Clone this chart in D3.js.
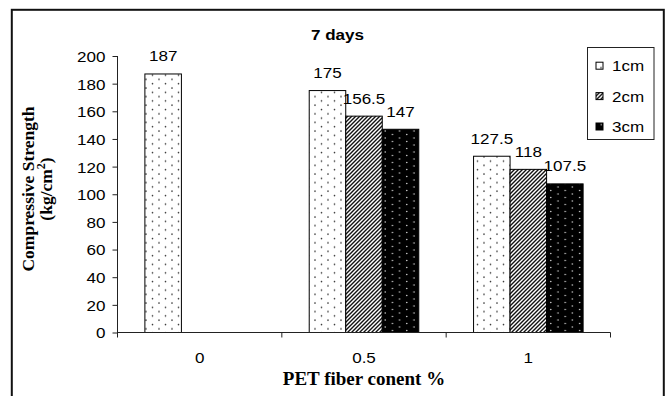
<!DOCTYPE html>
<html>
<head>
<meta charset="utf-8">
<script src="https://cdn.jsdelivr.net/npm/d3@7"></script>
<style>
  html, body { margin: 0; padding: 0; background: #fff; }
  svg { display: block; }
  .sans { font-family: "Liberation Sans", Arial, sans-serif; }
  .serif { font-family: "Liberation Serif", "Times New Roman", serif; font-weight: bold; }
</style>
</head>
<body>
<svg id="chart" width="668" height="396"></svg>
<script>
// Fiber content categories and the three fiber lengths
const categories = ["0", "0.5", "1"];
const seriesNames = ["1cm", "2cm", "3cm"];
// Compressive strength (kg/cm2) after 7 days, one array per fiber length
const values1cm = [187, 175, 127.5];
const values2cm = [null, 156.5, 118];
const values3cm = [null, 147, 107.5];
const yTicks = [0, 20, 40, 60, 80, 100, 120, 140, 160, 180, 200];

const seriesValues = [values1cm, values2cm, values3cm];
const rows = [];
categories.forEach((c, ci) => {
  seriesNames.forEach((s, si) => {
    const v = seriesValues[si][ci];
    if (v != null) rows.push({ cat: c, series: s, value: v });
  });
});

const SX = 1.1;        // horizontal stretch of the sans-serif labels
const FS = 15.5;       // sans-serif label size

// Places sans-serif text at (x, y) with a slight horizontal stretch
function place(sel, fx, fy) {
  sel.attr("x", 0).attr("y", 0)
    .attr("transform", (d, i) => `translate(${fx(d, i)},${fy(d, i)}) scale(${SX},1)`);
}

const svg = d3.select("#chart");
const defs = svg.append("defs");

// Sparse dots on white
const p1 = defs.append("pattern").attr("id", "pat1cm")
  .attr("patternUnits", "userSpaceOnUse").attr("width", 13).attr("height", 8.6);
p1.append("rect").attr("width", 13).attr("height", 8.6).attr("fill", "#fff");
p1.append("circle").attr("cx", 3).attr("cy", 2).attr("r", 0.8).attr("fill", "#333");
p1.append("circle").attr("cx", 9.5).attr("cy", 6.3).attr("r", 0.8).attr("fill", "#333");

// Dense forward diagonal stripes
const p2 = defs.append("pattern").attr("id", "pat2cm")
  .attr("patternUnits", "userSpaceOnUse").attr("width", 4).attr("height", 4);
p2.append("rect").attr("width", 4).attr("height", 4).attr("fill", "#fff");
p2.append("path").attr("d", "M-1,1 l2,-2 M0,4 l4,-4 M3,5 l2,-2")
  .attr("stroke", "#111").attr("stroke-width", 1.4);

// Light dots on black
const p3 = defs.append("pattern").attr("id", "pat3cm")
  .attr("patternUnits", "userSpaceOnUse").attr("width", 14.4).attr("height", 7);
p3.append("rect").attr("width", 14.4).attr("height", 7).attr("fill", "#000");
p3.append("circle").attr("cx", 3.6).attr("cy", 1.5).attr("r", 0.8).attr("fill", "#ccc");
p3.append("circle").attr("cx", 10.8).attr("cy", 5).attr("r", 0.8).attr("fill", "#ccc");

const fills = { "1cm": "url(#pat1cm)", "2cm": "url(#pat2cm)", "3cm": "url(#pat3cm)" };

// Outer chart frame
svg.append("rect")
  .attr("x", 11.8).attr("y", 9.8).attr("width", 652).attr("height", 400)
  .attr("fill", "none").attr("stroke", "#111").attr("stroke-width", 2);

const plot = { left: 117.5, right: 610.5, top: 56, bottom: 332.5 };

const x0 = d3.scaleBand().domain(categories).range([plot.left, plot.right]).padding(0);
const x1 = d3.scaleBand().domain(seriesNames).range([0, x0.bandwidth()])
  .paddingInner(0).paddingOuter(0.75);
const y = d3.scaleLinear().domain([0, 200]).range([plot.bottom, plot.top]);

// Bars
svg.append("g").selectAll("rect").data(rows).join("rect")
  .attr("x", d => x0(d.cat) + x1(d.series))
  .attr("y", d => y(d.value))
  .attr("width", x1.bandwidth())
  .attr("height", d => y(0) - y(d.value))
  .attr("fill", d => fills[d.series])
  .attr("stroke", "#000").attr("stroke-width", 1);

// Value labels
svg.append("g").selectAll("text").data(rows).join("text")
  .attr("class", "sans")
  .attr("text-anchor", "middle")
  .attr("font-size", FS)
  .text(d => String(d.value))
  .call(place, d => x0(d.cat) + x1(d.series) + x1.bandwidth() / 2, d => y(d.value) - 12.5);

// Y axis
const yAxis = svg.append("g").attr("class", "sans")
  .attr("transform", `translate(${plot.left},0)`)
  .call(d3.axisLeft(y).tickValues(yTicks).tickSize(5).tickPadding(7).tickFormat(d3.format("d")));
yAxis.select(".domain").attr("stroke", "#222").attr("d", `M0,${plot.top}V${plot.bottom + 5}`);
yAxis.selectAll(".tick line").attr("stroke", "#222");
yAxis.selectAll(".tick text")
  .attr("font-size", FS).attr("fill", "#000").attr("dy", null)
  .call(place, () => -12, () => FS * 0.35);

// X axis: tick marks at category boundaries, labels at centres
const xg = svg.append("g").attr("transform", `translate(0,${plot.bottom})`);
xg.append("line").attr("x1", plot.left).attr("x2", plot.right)
  .attr("stroke", "#222");
const boundaries = categories.map(c => x0(c) + x0.bandwidth());
xg.selectAll("line.tk").data(boundaries).join("line").attr("class", "tk")
  .attr("x1", d => d).attr("x2", d => d).attr("y1", 0).attr("y2", 5)
  .attr("stroke", "#222");
xg.selectAll("text").data(categories).join("text")
  .attr("class", "sans")
  .attr("text-anchor", "middle")
  .attr("font-size", FS)
  .text(d => d)
  .call(place, d => x0(d) + x0.bandwidth() / 2, () => 30.5);

// Titles
svg.append("text").attr("class", "sans")
  .attr("text-anchor", "middle").attr("font-size", FS).attr("font-weight", "bold")
  .text("7 days")
  .call(place, () => 337.5, () => 40);

svg.append("text").attr("class", "serif")
  .attr("x", (plot.left + plot.right) / 2).attr("y", 385)
  .attr("text-anchor", "middle").attr("font-size", 19)
  .text("PET fiber conent %");

const yTitle = svg.append("g").attr("transform", "translate(0,189) rotate(-90)");
yTitle.append("text").attr("class", "serif")
  .attr("x", 0).attr("y", 34)
  .attr("text-anchor", "middle").attr("font-size", 17.5)
  .text("Compressive Strength");
const unit = yTitle.append("text").attr("class", "serif")
  .attr("x", 0).attr("y", 51.5)
  .attr("text-anchor", "middle").attr("font-size", 17.5);
unit.append("tspan").text("(kg/cm");
unit.append("tspan").attr("dy", -7).attr("font-size", 12).text("2");
unit.append("tspan").attr("dy", 7).text(")");

// Legend
const legend = svg.append("g");
legend.append("rect")
  .attr("x", 587.5).attr("y", 47.5).attr("width", 66.5).attr("height", 92)
  .attr("fill", "#fff").attr("stroke", "#222").attr("stroke-width", 1);
const legendY = d3.scalePoint().domain(seriesNames).range([65.7, 126.5]);
const items = legend.selectAll("g.item").data(seriesNames).join("g").attr("class", "item")
  .attr("transform", d => `translate(0,${legendY(d)})`);
items.append("rect")
  .attr("x", 596).attr("y", -3.5).attr("width", 7).attr("height", 7)
  .attr("fill", d => fills[d]).attr("stroke", "#000").attr("stroke-width", 1);
items.append("text").attr("class", "sans")
  .attr("font-size", FS)
  .text(d => d)
  .call(place, () => 612, () => 5.5);
</script>
</body>
</html>
